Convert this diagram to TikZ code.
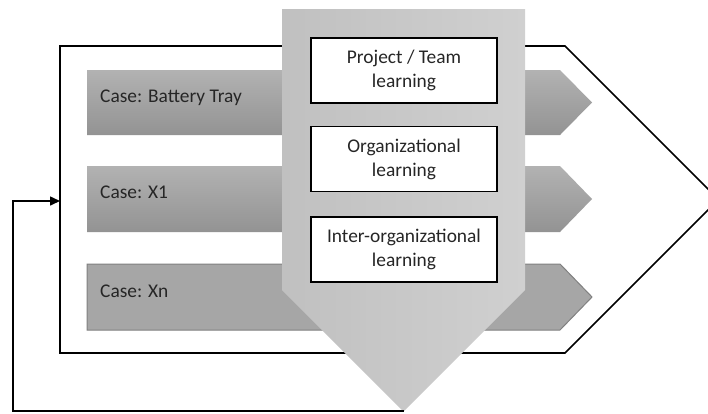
\documentclass[tikz,border=0pt]{standalone}
\usepackage{fontspec}
\setmainfont{Carlito}
\usetikzlibrary{arrows.meta}
\begin{document}
\begin{tikzpicture}[x=1pt,y=-1pt,
  frame/.style={draw=black,line width=1.6pt,fill=white,line join=miter},
  casebar/.style={top color=barTop,bottom color=barBot,draw=none},
  casebarflat/.style={fill=barFlat,draw=barEdge,line width=1pt},
  casetext/.style={anchor=base west,inner sep=0pt,font=\fontsize{19.4}{24}\selectfont,text=black!85},
  bigarrow/.style={left color=arrowL,right color=arrowR,draw=none},
  learnbox/.style={draw=black,line width=1.6pt,fill=white,minimum width=186pt,minimum height=65pt,inner sep=0pt,align=center,font=\fontsize{19.4}{24}\selectfont,text=black!85},
  feedback/.style={draw=black,line width=1.6pt,-{Triangle[length=10pt,width=9pt]}}]
\definecolor{barTop}{HTML}{B2B2B2}
\definecolor{barBot}{HTML}{939393}
\definecolor{barFlat}{HTML}{A6A6A6}
\definecolor{barEdge}{HTML}{808080}
\definecolor{arrowL}{HTML}{C0C0C0}
\definecolor{arrowR}{HTML}{D0D0D0}
\useasboundingbox (0,0) rectangle (708,413);
\clip (0,0) rectangle (708,413);
% outer frame (pentagon arrow)
\path[frame] (60,46) -- (565,46) -- (718.5,199.5) -- (565,353) -- (60,353) -- cycle;
\coordinate (entry) at (60,201);
% case bars
\path[casebar] (87,70) -- (560,70) -- (592,102.5) -- (560,135) -- (87,135) -- cycle;
\path[casebar] (87,166) -- (560,166) -- (592,199) -- (560,232) -- (87,232) -- cycle;
\path[casebarflat] (87,264) -- (560,264) -- (592,297) -- (560,330) -- (87,330) -- cycle;
\node[casetext] (c1) at (100,102) {Case: Battery Tray};
\node[casetext] (c2) at (100,198) {Case: X1};
\node[casetext] (c3) at (100,297) {Case: Xn};
% big downward arrow
\path[bigarrow] (282,9) -- (525,9) -- (525,290) -- (403.5,411.5) -- (282,290) -- cycle;
\coordinate (tip) at (403.5,411);
% learning boxes
\node[learnbox] (b1) at (404,70.5) {Project / Team\\learning};
\node[learnbox] (b2) at (404,159) {Organizational\\learning};
\node[learnbox] (b3) at (404,249.5) {Inter-organizational\\learning};
% feedback loop
\draw[feedback] (tip) -- (13,411) |- (entry);
\end{tikzpicture}
\end{document}
